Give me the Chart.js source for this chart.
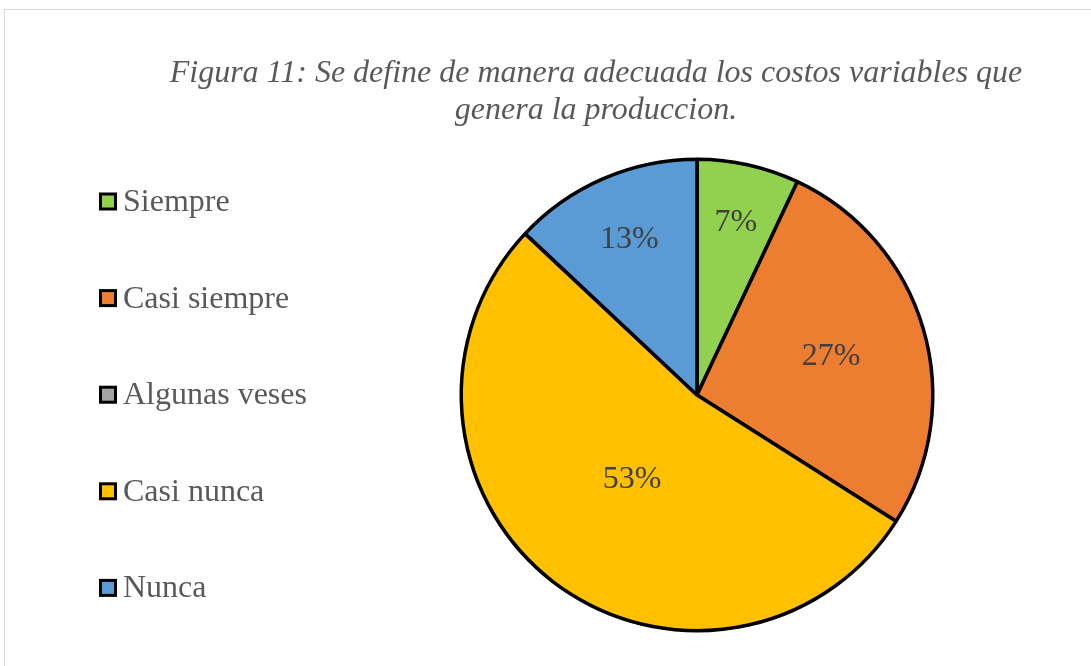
<!DOCTYPE html>
<html>
<head>
<meta charset="utf-8">
<script src="https://cdn.jsdelivr.net/npm/chart.js@4/dist/chart.umd.min.js"></script>
<style>
html,body{margin:0;padding:0;background:#fff;}
#wrap{position:relative;width:1091px;height:666px;}
</style>
</head>
<body>
<div id="wrap"><canvas id="c" width="1091" height="666"></canvas></div>
<script>
const categories = ["Siempre", "Casi siempre", "Algunas veses", "Casi nunca", "Nunca"];
const percentValues = [7, 27, 0, 53, 13];
const titleLines = ["Figura 11: Se define de manera adecuada los costos variables que", "genera la produccion."];
const colors = ["#92D050", "#ED7D31", "#A5A5A5", "#FFC000", "#5B9BD5"];

const labelRadiusFrac = [0.753, 0.592, 0.6, 0.449, 0.724];
const FONT = '"Liberation Serif", "Times New Roman", serif';

const framePlugin = {
  id: 'frame',
  beforeDraw(chart) {
    const ctx = chart.ctx;
    ctx.save();
    ctx.strokeStyle = '#d9d9d9';
    ctx.lineWidth = 1;
    ctx.strokeRect(4.5, 9.5, 1100, 700);
    // title
    ctx.fillStyle = '#595959';
    ctx.font = 'italic 32px ' + FONT;
    ctx.textAlign = 'center';
    ctx.textBaseline = 'middle';
    ctx.fillText(titleLines[0], 596, 74);
    ctx.fillText(titleLines[1], 596, 111);
    // legend
    ctx.textAlign = 'left';
    ctx.font = '32px ' + FONT;
    const cols = chart.data.datasets[0].backgroundColor;
    chart.data.labels.forEach((lab, i) => {
      const cy = 201.5 + i * 96.6;
      ctx.fillStyle = cols[i];
      ctx.fillRect(100.5, cy - 7.5, 15, 15);
      ctx.strokeStyle = '#000';
      ctx.lineWidth = 3;
      ctx.strokeRect(100.5, cy - 7.5, 15, 15);
      ctx.fillStyle = '#595959';
      ctx.fillText(lab, 123, cy + 1);
    });
    ctx.restore();
  }
};

const labelPlugin = {
  id: 'pctLabels',
  afterDatasetsDraw(chart) {
    const ctx = chart.ctx;
    const meta = chart.getDatasetMeta(0);
    ctx.save();
    ctx.fillStyle = '#404040';
    ctx.font = '32px ' + FONT;
    ctx.textAlign = 'center';
    ctx.textBaseline = 'middle';
    meta.data.forEach((arc, i) => {
      if (!percentValues[i]) return;
      const p = arc.getProps(['x','y','startAngle','endAngle','outerRadius'], true);
      const mid = (p.startAngle + p.endAngle) / 2;
      const d = p.outerRadius * labelRadiusFrac[i];
      ctx.fillText(percentValues[i] + '%', p.x + Math.cos(mid) * d, p.y + Math.sin(mid) * d + 1);
    });
    ctx.restore();
  }
};

new Chart(document.getElementById('c'), {
  type: 'pie',
  data: {
    labels: categories,
    datasets: [{
      data: percentValues,
      backgroundColor: colors,
      borderColor: '#000',
      borderWidth: 3.5
    }]
  },
  options: {
    responsive: false,
    animation: false,
    events: [],
    layout: { padding: { left: 459.5, right: 156.5, top: 157.5, bottom: 33.5 } },
    plugins: { legend: { display: false }, tooltip: { enabled: false }, title: { display: false } }
  },
  plugins: [framePlugin, labelPlugin]
});
</script>
</body>
</html>
